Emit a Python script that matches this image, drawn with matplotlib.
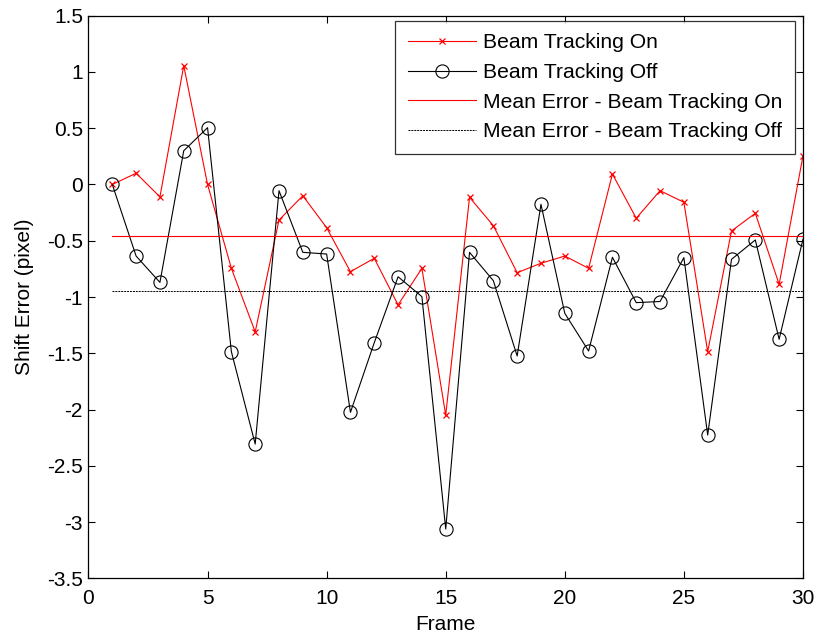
import numpy as np
import matplotlib
matplotlib.use("Agg")
import matplotlib.pyplot as plt

plt.rcParams['font.family'] = ['Liberation Sans', 'DejaVu Sans']

frames = list(range(1, 31))
tracking_on = [0.0, 0.10, -0.11, 1.056, 0.0, -0.745, -1.31, -0.316, -0.10, -0.384,
               -0.775, -0.656, -1.07, -0.745, -2.05, -0.114, -0.366, -0.784, -0.70, -0.636,
               -0.745, 0.093, -0.30, -0.055, -0.158, -1.486, -0.413, -0.256, -0.887, 0.253]
tracking_off = [0.0, -0.636, -0.87, 0.30, 0.505, -1.486, -2.307, -0.055, -0.603, -0.618,
                -2.025, -1.406, -0.82, -0.997, -3.062, -0.603, -0.855, -1.524, -0.176, -1.145,
                -1.48, -0.647, -1.05, -1.04, -0.65, -2.227, -0.665, -0.493, -1.376, -0.487]

mean_on = np.mean(tracking_on)
mean_off = np.mean(tracking_off)

fig = plt.figure(figsize=(8.17, 6.39), dpi=100)
ax = fig.add_axes([0.1083, 0.095, 0.8745, 0.8804])

ax.plot(frames, tracking_on, color='red', lw=0.8, marker='x', ms=5, mew=0.9,
        label='Beam Tracking On')
ax.plot(frames, tracking_off, color='black', lw=0.8, marker='o', ms=9.5, mfc='none',
        mew=0.8, label='Beam Tracking Off')
ax.plot([frames[0], frames[-1]], [mean_on, mean_on], color='red', lw=0.8,
        label='Mean Error - Beam Tracking On')
ax.plot([frames[0], frames[-1]], [mean_off, mean_off], color='black', lw=0.7,
        ls=(0, (2, 1)), label='Mean Error - Beam Tracking Off')

ax.set_xlim(0, 30)
ax.set_ylim(-3.5, 1.5)
ax.set_xticks(np.arange(0, 31, 5))
ax.set_yticks(np.arange(-3.5, 1.51, 0.5))
ax.set_yticklabels(['-3.5', '-3', '-2.5', '-2', '-1.5', '-1', '-0.5', '0', '0.5', '1', '1.5'])
ax.tick_params(direction='in', top=True, right=True, length=5, width=0.8, labelsize=15)
ax.tick_params(axis='x', pad=8)
ax.tick_params(axis='y', pad=4)
for s in ax.spines.values():
    s.set_linewidth(0.9)

ax.set_xlabel('Frame', fontsize=15, labelpad=5)
ax.set_ylabel('Shift Error (pixel)', fontsize=15, labelpad=9)

leg = ax.legend(loc='upper right', bbox_to_anchor=(0.989, 0.991), borderaxespad=0,
                fontsize=15.2, frameon=True, fancybox=False, edgecolor='black',
                handlelength=3.2, handletextpad=0.35, labelspacing=0.5,
                borderpad=0.6)
leg.get_frame().set_linewidth(0.9)

fig.savefig('out.png', dpi=100)
